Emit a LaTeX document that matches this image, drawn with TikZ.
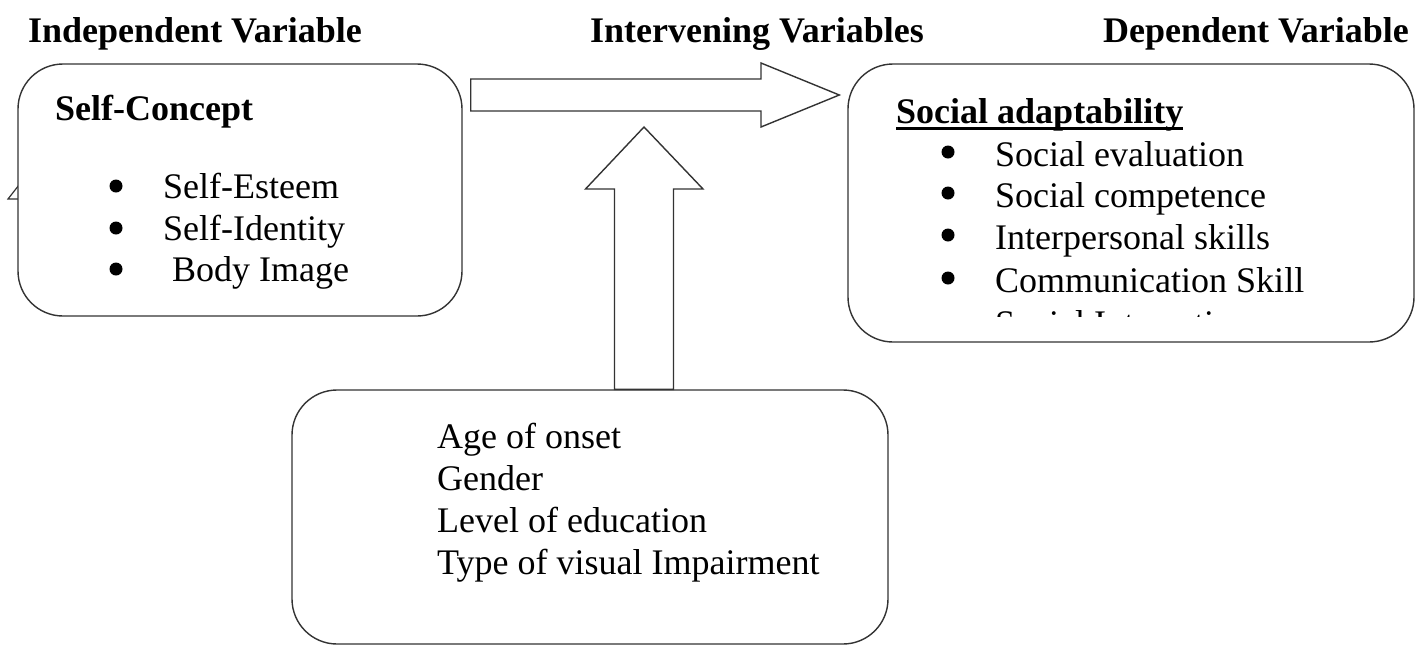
\documentclass[tikz,border=0pt]{standalone}
\usepackage{fontspec}
\setmainfont{Liberation Serif}
\usetikzlibrary{calc}
\begin{document}
\begin{tikzpicture}[x=1pt,y=-1pt,
  box/.style={draw=black!80, line width=1.4pt, rounded corners=45pt, fill=white, inner sep=0pt},
  txt/.style={anchor=base west, inner sep=0pt, font=\fontsize{36}{42}\selectfont},
  ttl/.style={anchor=base west, inner sep=0pt, font=\fontsize{36}{42}\selectfont\bfseries},
  dot/.style={circle, fill=black, inner sep=0pt, minimum size=13pt},
  blk/.style={draw=black!80, line width=1.4pt, fill=white, line join=miter}]
\useasboundingbox (0,0) rectangle (1422,646);

% titles
\node[ttl] (t1) at (28,42) {Independent Variable};
\node[ttl] (t2) at (590,42) {Intervening Variables};
\node[ttl] (t3) at (1103,42) {Dependent Variable};

% small hidden shape behind the left box
\draw[draw=black!80, line width=1.2pt] (19,185) -- (8,199) -- (19,199);

% boxes
\node[box, minimum width=444pt, minimum height=252pt] (iv) at (240,190) {};
\node[box, minimum width=566pt, minimum height=278pt] (dv) at (1131,203) {};
\node[box, minimum width=596pt, minimum height=254pt] (mv) at (590,517) {};

% left box text
\node[ttl] (sc) at (55,120) {Self-Concept};
\node[dot] (ld1) at (116,186) {};
\node[dot] (ld2) at (116,228) {};
\node[dot] (ld3) at (116,269) {};
\node[txt] (l1) at (163,198) {Self-Esteem};
\node[txt] (l2) at (163,240) {Self-Identity};
\node[txt] (l3) at (163,281) {\hspace*{9pt}Body Image};

% right box text
\node[ttl] (sa) at (896,123) {Social adaptability};
\draw[line width=2.4pt] ($(sa.base west)+(0,5.5)$) -- ($(sa.base east)+(0,5.5)$);
\node[dot] (rd1) at (948,152) {};
\node[dot] (rd2) at (948,193) {};
\node[dot] (rd3) at (948,235) {};
\node[dot] (rd4) at (948,278) {};
\node[txt] (r1) at (995,166) {Social evaluation};
\node[txt] (r2) at (995,207) {Social competence};
\node[txt] (r3) at (995,249) {Interpersonal skills};
\node[txt] (r4) at (995,292) {Communication Skill};
\begin{scope}
  \clip (850,66) rectangle (1412,316);
  \node[txt] (r5) at (995,335) {Social Interaction};
\end{scope}

% bottom box text
\node[txt] (b1) at (437,448) {Age of onset};
\node[txt] (b2) at (437,490) {Gender};
\node[txt] (b3) at (437,532) {Level of education};
\node[txt] (b4) at (437,574) {Type of visual Impairment};

% horizontal block arrow (iv -> dv)
\coordinate (hA) at ($(iv.east)+(8,0)$);
\coordinate (hB) at ($(dv.west)+(-8,0)$);
\draw[blk] (hA |- 0,79) -- (761,79) -- (761,63) -- (hB |- 0,95) -- (761,127) -- (761,111) -- (hA |- 0,111) -- cycle;

% vertical block arrow (mv -> horizontal arrow)
\coordinate (vA) at (mv.north -| 644,0);
\draw[blk] (614.5,0 |- vA) -- (614.5,189) -- (585.5,189) -- (644,127) -- (703,189) -- (673.5,189) -- (673.5,0 |- vA) -- cycle;
\end{tikzpicture}
\end{document}
